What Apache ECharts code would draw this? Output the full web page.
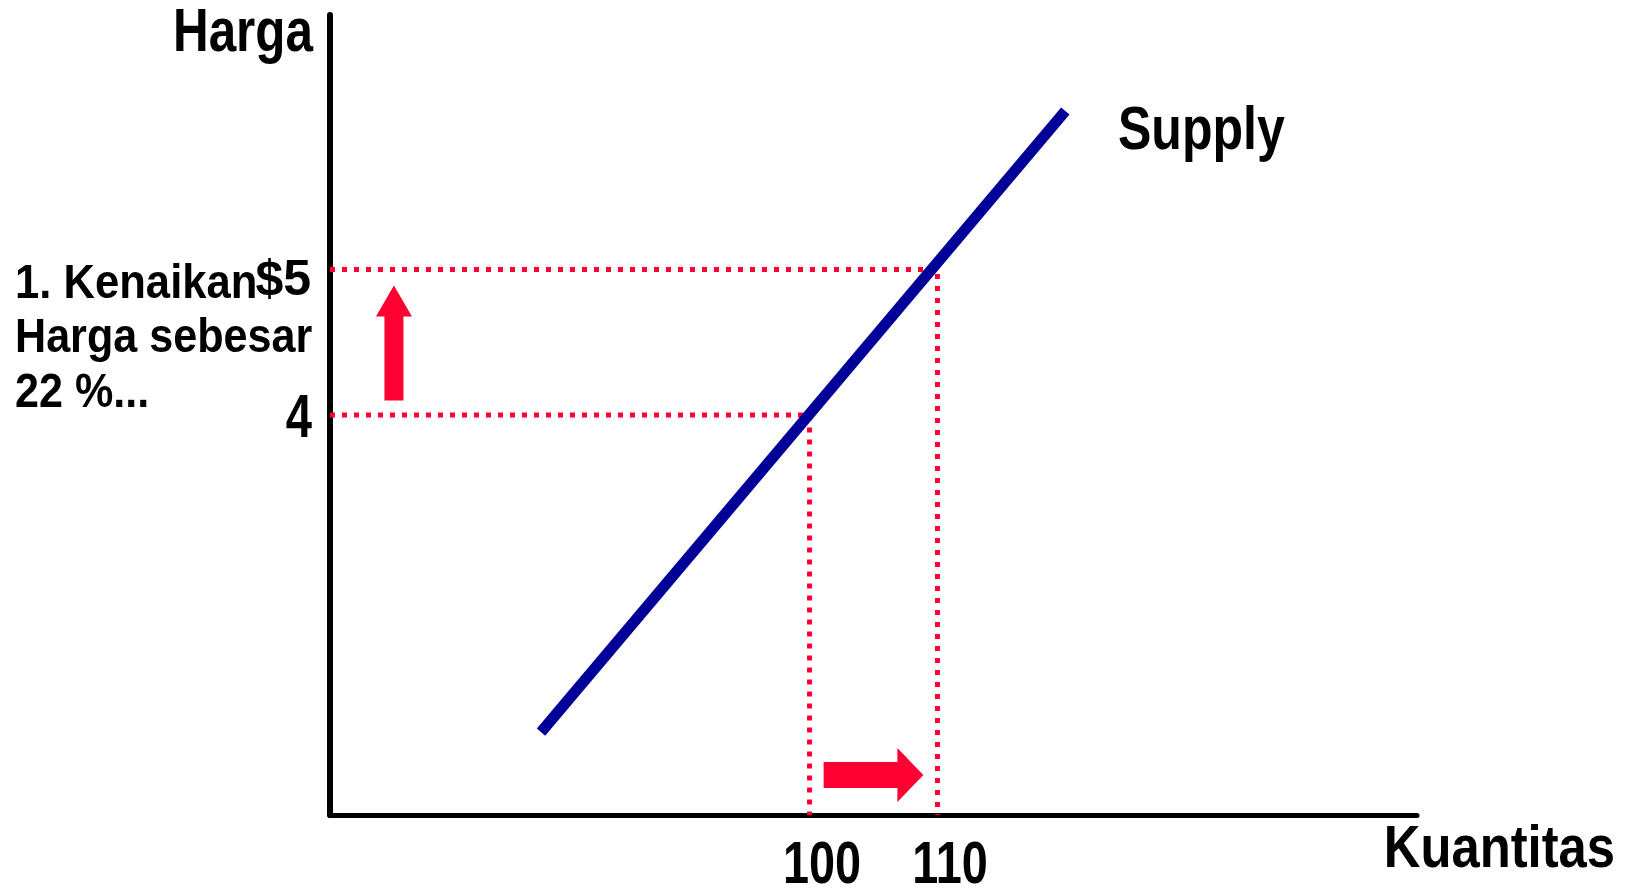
<!DOCTYPE html>
<html>
<head>
<meta charset="utf-8">
<script src="https://cdn.jsdelivr.net/npm/echarts@6/dist/echarts.min.js"></script>
<style>
html,body{margin:0;padding:0;background:#fff;}
#c{width:1627px;height:888px;}
</style>
</head>
<body>
<div id="c"></div>
<script>
// ---- data ----
const quantities = [100, 110];          // Kuantitas at the two prices
const prices = [4, 5];                  // Harga
const quantityLabels = ['100', '110'];
const priceLabels = ['4', '$5'];
const supplyX = [79, 120];              // supply line ends (quantity)
const supplyY = [1.82, 6.09];           // supply line ends (price)
const arrowFrom = [[67.5, 4.10], [101.1, 1.525]];
const arrowTo   = [[67.5, 4.89], [108.9, 1.525]];
const xRange = [62.5, 147.5];
const yRange = [1.25, 6.75];

const FONT = '"Liberation Sans", Arial, sans-serif';
const RED = '#ff0033';
const BLUE = '#000099';

const chart = echarts.init(document.getElementById('c'), null, {renderer: 'canvas'});

const supplyData = supplyX.map((x, i) => [x, supplyY[i]]);
const guideSeries = quantities.map((q, i) => ({
  type: 'line',
  data: [[xRange[0], prices[i]], [q, prices[i]], [q, yRange[0]]],
  symbol: 'none',
  silent: true,
  z: 3,
  lineStyle: {color: RED, width: 5, type: [5, 7], cap: 'butt'}
}));

const arrowSizes = [
  {shaft: 19, head: 36, headLen: 31},
  {shaft: 26, head: 54, headLen: 26}
];

const option = {
  animation: false,
  backgroundColor: '#fff',
  grid: {left: 330, right: 210, top: 15, bottom: 73, containLabel: false},
  xAxis: {
    type: 'value', min: xRange[0], max: xRange[1], interval: 2.5,
    axisLine: {show: true, onZero: false, lineStyle: {color: '#000', width: 5}},
    axisTick: {show: false},
    splitLine: {show: false},
    axisLabel: {show: false}
  },
  yAxis: {
    type: 'value', min: yRange[0], max: yRange[1], interval: 0.25,
    axisLine: {show: true, onZero: false, lineStyle: {color: '#000', width: 6}},
    axisTick: {show: false},
    splitLine: {show: false},
    axisLabel: {show: false}
  },
  series: [
    ...guideSeries,
    {
      type: 'line',
      data: supplyData,
      symbol: 'none',
      silent: true,
      z: 4,
      lineStyle: {color: BLUE, width: 11, cap: 'butt'}
    },
    {
      type: 'custom',
      silent: true,
      z: 5,
      data: arrowFrom.map((f, i) => [f[0], f[1], arrowTo[i][0], arrowTo[i][1]]),
      renderItem: function (params, api) {
        const i = params.dataIndex;
        const s = arrowSizes[i];
        const p0 = api.coord([api.value(0), api.value(1)]);
        const p1 = api.coord([api.value(2), api.value(3)]);
        const dx = p1[0] - p0[0], dy = p1[1] - p0[1];
        const len = Math.sqrt(dx * dx + dy * dy);
        const ux = dx / len, uy = dy / len;
        const nx = -uy, ny = ux;
        const bx = p1[0] - ux * s.headLen, by = p1[1] - uy * s.headLen;
        const hs = s.shaft / 2, hh = s.head / 2;
        const pts = [
          [p0[0] + nx * hs, p0[1] + ny * hs],
          [bx + nx * hs, by + ny * hs],
          [bx + nx * hh, by + ny * hh],
          [p1[0], p1[1]],
          [bx - nx * hh, by - ny * hh],
          [bx - nx * hs, by - ny * hs],
          [p0[0] - nx * hs, p0[1] - ny * hs]
        ];
        return {type: 'polygon', shape: {points: pts}, style: {fill: RED}};
      }
    }
  ]
};
chart.setOption(option);

// text helper: condensed bold text (narrow face emulated with scaleX)
function txt(text, x, capMid, size, sx, align) {
  return {
    type: 'text', x: x, y: capMid + 0.075 * size, scaleX: sx, scaleY: 1, z: 10,
    style: {text: text, fill: '#000', font: 'bold ' + size + 'px ' + FONT, align: align, verticalAlign: 'middle'}
  };
}

const toPx = v => chart.convertToPixel({gridIndex: 0}, v);
const graphics = [
  txt('Harga', 313, 30, 61, 0.81, 'right'),
  txt('Supply', 1118, 127.5, 61, 0.82, 'left'),
  txt('Kuantitas', 1615, 846, 59, 0.86, 'right'),
  txt('1. Kenaikan', 15, 280.5, 49, 0.89, 'left'),
  txt('Harga sebesar', 15, 334.5, 49, 0.88, 'left'),
  txt('22 %...', 15, 389.5, 49, 0.88, 'left')
];
// tick labels positioned through the axes' scales
quantities.forEach((q, i) => {
  const p = toPx([q, yRange[0]]);
  graphics.push(txt(quantityLabels[i], p[0] + 12.5, p[1] + 46.5, 60, 0.78, 'center'));
});
prices.forEach((v, i) => {
  const p = toPx([xRange[0], v]);
  if (i === 0) graphics.push(txt(priceLabels[i], p[0] - 18, p[1] + 0, 62, 0.76, 'right'));
  else graphics.push(txt(priceLabels[i], p[0] - 19, p[1] + 8, 50, 1.0, 'right'));
});
chart.setOption({graphic: graphics});
</script>
</body>
</html>
